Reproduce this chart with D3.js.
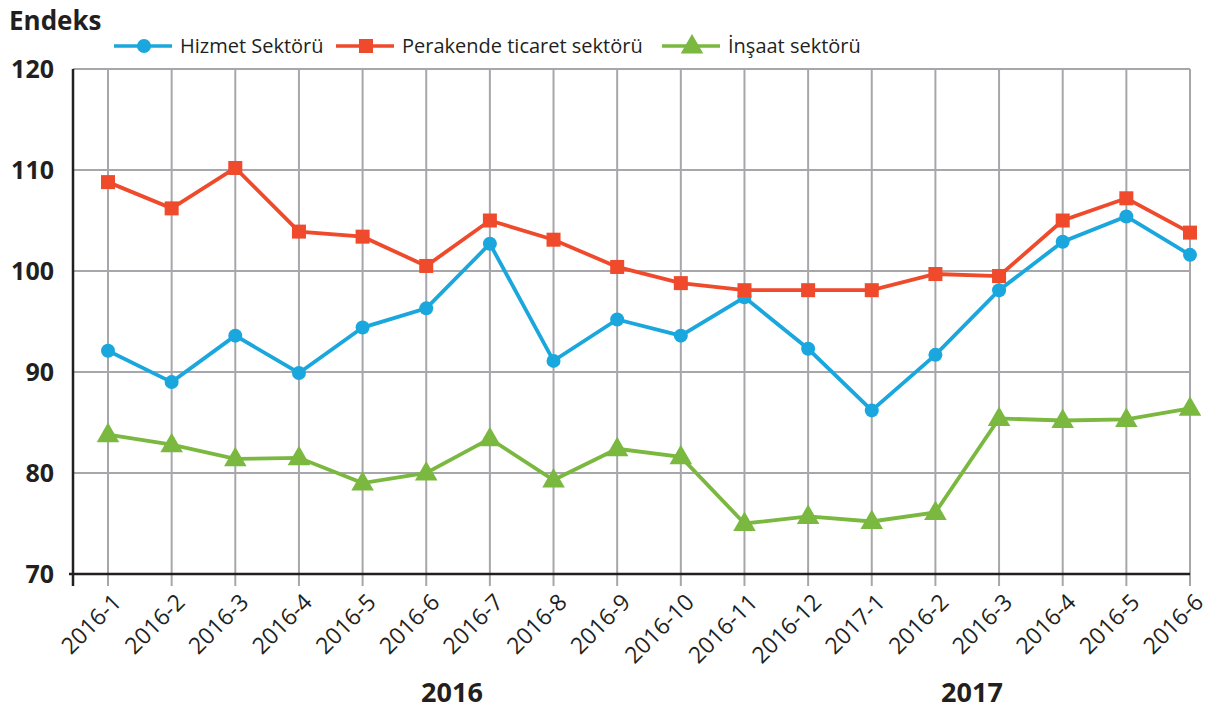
<!DOCTYPE html>
<html>
<head>
<meta charset="utf-8">
<script src="https://cdn.jsdelivr.net/npm/d3@7"></script>
<style>
  body { margin: 0; background: #fff; }
  text { font-family: "Open Sans", "DejaVu Sans", sans-serif; fill: #231f20; }
</style>
</head>
<body>
<div id="chart"></div>
<script>
// categories (labels as printed in the source)
var months = ["2016-1", "2016-2", "2016-3", "2016-4", "2016-5", "2016-6", "2016-7", "2016-8", "2016-9",
    "2016-10", "2016-11", "2016-12", "2017-1", "2016-2", "2016-3", "2016-4", "2016-5", "2016-6"];

var hizmet = [92.1, 89.0, 93.6, 89.9, 94.4, 96.3, 102.7, 91.1, 95.2, 93.6, 97.4, 92.3, 86.2, 91.7, 98.1, 102.9, 105.4, 101.6];
var perakende = [108.8, 106.2, 110.2, 103.9, 103.4, 100.5, 105.0, 103.1, 100.4, 98.8, 98.1, 98.1, 98.1, 99.7, 99.5, 105.0, 107.2, 103.8];
var insaat = [83.8, 82.8, 81.4, 81.5, 79.0, 80.0, 83.4, 79.3, 82.4, 81.6, 75.0, 75.7, 75.2, 76.1, 85.4, 85.2, 85.3, 86.4];

var seriesNames = ["Hizmet Sektörü", "Perakende ticaret sektörü", "İnşaat sektörü"];
var yTicks = [70, 80, 90, 100, 110, 120];
var years = ["2016", "2017"];

var width = 1220, height = 711;
var margin = {left: 73, right: 1190, top: 69, bottom: 574};

var svg = d3.select("#chart").append("svg")
    .attr("width", width)
    .attr("height", height);

var x = d3.scalePoint()
    .domain(d3.range(months.length))
    .range([108, margin.right]);

var y = d3.scaleLinear()
    .domain([70, 120])
    .range([margin.bottom, margin.top]);

var grid = "#a7a7ab";

// horizontal grid
svg.append("g")
    .selectAll("line")
    .data(yTicks.slice(1))
    .enter().append("line")
    .attr("x1", margin.left).attr("x2", margin.right)
    .attr("y1", function(d) { return y(d); })
    .attr("y2", function(d) { return y(d); })
    .attr("stroke", grid).attr("stroke-width", 2);

// vertical grid (runs past the x axis as ticks)
svg.append("g")
    .selectAll("line")
    .data(d3.range(months.length))
    .enter().append("line")
    .attr("x1", function(d) { return x(d); })
    .attr("x2", function(d) { return x(d); })
    .attr("y1", margin.top).attr("y2", margin.bottom + 12)
    .attr("stroke", grid).attr("stroke-width", 2);

// axes lines
svg.append("line")
    .attr("x1", margin.left).attr("x2", margin.left)
    .attr("y1", margin.top).attr("y2", margin.bottom + 12)
    .attr("stroke", "#231f20").attr("stroke-width", 2.5);
svg.append("line")
    .attr("x1", margin.left - 4).attr("x2", margin.right)
    .attr("y1", margin.bottom).attr("y2", margin.bottom)
    .attr("stroke", "#231f20").attr("stroke-width", 2.5);

// y tick labels
svg.append("g")
    .selectAll("text")
    .data(yTicks)
    .enter().append("text")
    .attr("x", 54)
    .attr("y", function(d) { return y(d); })
    .attr("dy", "0.36em")
    .attr("text-anchor", "end")
    .style("font-size", "25px")
    .style("font-weight", "bold")
    .text(function(d) { return d; });

// x tick labels, rotated
svg.append("g")
    .selectAll("text")
    .data(months)
    .enter().append("text")
    .attr("transform", function(d, i) { return "translate(" + (x(i) + 9) + "," + (margin.bottom + 24) + ") rotate(-45)"; })
    .attr("text-anchor", "end")
    .attr("dy", "0.35em")
    .style("font-size", "23px")
    .text(function(d) { return d; });

// year labels
svg.append("g")
    .selectAll("text")
    .data(years)
    .enter().append("text")
    .attr("x", function(d) { return d == "2016" ? 452 : 972; })
    .attr("y", 702)
    .attr("text-anchor", "middle")
    .style("font-size", "27px")
    .style("font-weight", "bold")
    .text(function(d) { return d; });

// title
svg.append("text")
    .attr("x", 9).attr("y", 30)
    .style("font-size", "26px")
    .style("font-weight", "bold")
    .text("Endeks");

var colors = ["#1aa7dd", "#ee4a2b", "#7ab840"];
var data = [hizmet, perakende, insaat];

var line = d3.line()
    .x(function(d, i) { return x(i); })
    .y(function(d) { return y(d); });

var tri = d3.symbol().type(d3.symbolTriangle).size(220);

function drawMarker(g, k, cx, cy) {
    if (k == 0) {
        g.append("circle").attr("cx", cx).attr("cy", cy).attr("r", 7).attr("fill", colors[k]);
    } else if (k == 1) {
        g.append("rect").attr("x", cx - 7).attr("y", cy - 7).attr("width", 14).attr("height", 14).attr("fill", colors[k]);
    } else {
        g.append("path").attr("d", tri).attr("transform", "translate(" + cx + "," + (cy + 1) + ")").attr("fill", colors[k]);
    }
}

// draw green first, then blue, red on top
[2, 0, 1].forEach(function(k) {
    var g = svg.append("g");
    g.append("path")
        .datum(data[k])
        .attr("d", line)
        .attr("fill", "none")
        .attr("stroke", colors[k])
        .attr("stroke-width", 3.8);
    data[k].forEach(function(v, i) {
        drawMarker(g, k, x(i), y(v));
    });
});

// legend
var legendX = [114, 336, 662];
var leg = svg.append("g");
seriesNames.forEach(function(name, k) {
    var lx = legendX[k];
    leg.append("line")
        .attr("x1", lx).attr("x2", lx + 58)
        .attr("y1", 46).attr("y2", 46)
        .attr("stroke", colors[k]).attr("stroke-width", 3.5);
    drawMarker(leg, k, lx + 30, 46);
    leg.append("text")
        .attr("x", lx + 66).attr("y", 46)
        .attr("dy", "0.35em")
        .style("font-size", "20px")
        .text(name);
});
</script>
</body>
</html>
